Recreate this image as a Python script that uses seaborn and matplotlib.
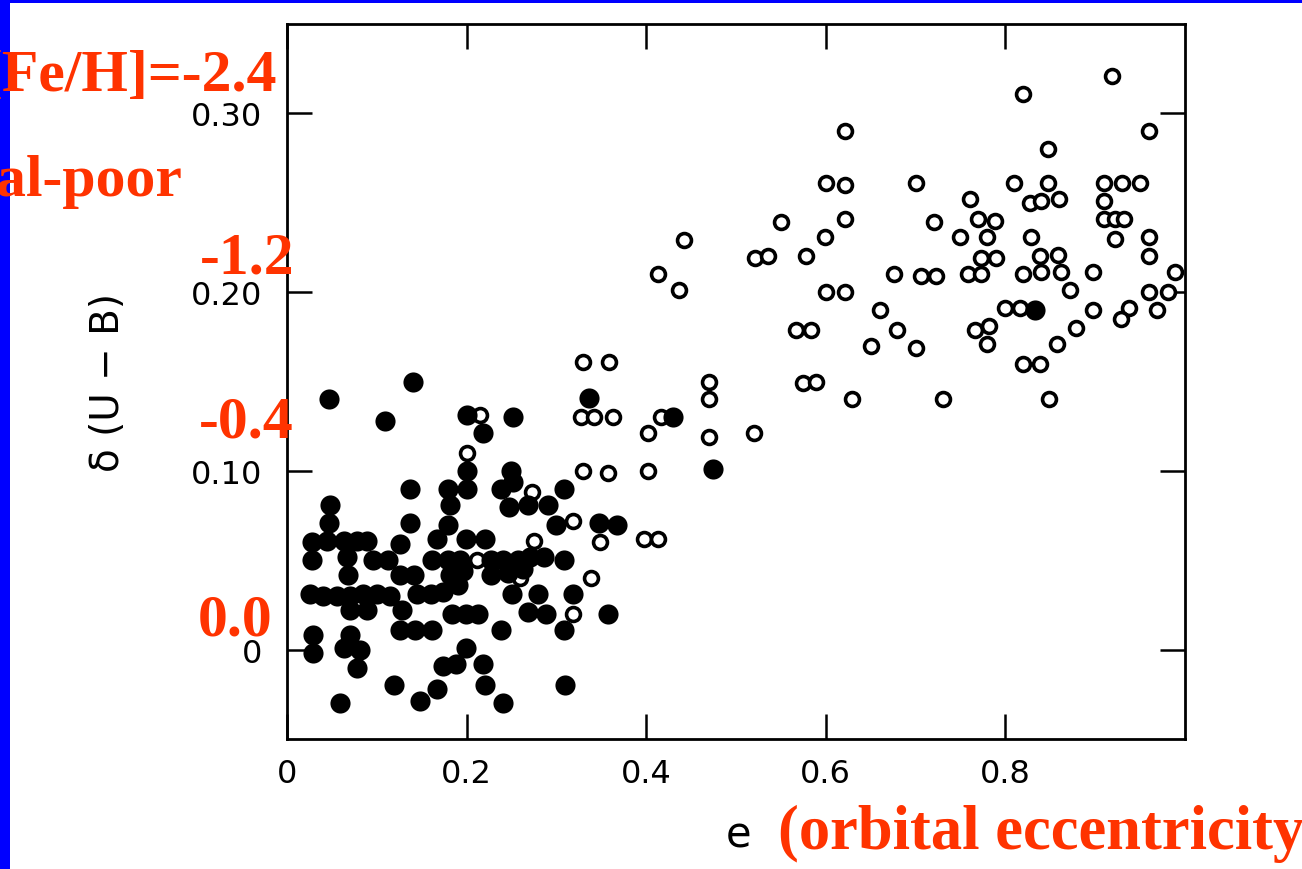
import matplotlib
matplotlib.use("Agg")
import matplotlib.pyplot as plt
import seaborn as sns
import pandas as pd
from matplotlib.patches import Rectangle

# ---- data ----
filled_e = [0.047, 0.140, 0.109, 0.201, 0.218, 0.252, 0.336, 0.430, 0.474, 0.200,
            0.200, 0.137, 0.137, 0.179, 0.181, 0.179, 0.048, 0.047, 0.249, 0.238,
            0.252, 0.308, 0.247, 0.268, 0.291, 0.299, 0.347, 0.368, 0.221, 0.028,
            0.045, 0.063, 0.078, 0.089, 0.126, 0.167, 0.199, 0.028, 0.067, 0.096,
            0.112, 0.162, 0.179, 0.193, 0.227, 0.241, 0.257, 0.271, 0.286, 0.308,
            0.068, 0.126, 0.141, 0.182, 0.196, 0.026, 0.040, 0.056, 0.070, 0.085,
            0.100, 0.115, 0.070, 0.089, 0.145, 0.160, 0.174, 0.190, 0.251, 0.279,
            0.319, 0.128, 0.184, 0.199, 0.213, 0.268, 0.288, 0.357, 0.126, 0.143,
            0.162, 0.238, 0.308, 0.029, 0.029, 0.070, 0.063, 0.081, 0.078, 0.199,
            0.174, 0.188, 0.218, 0.119, 0.059, 0.148, 0.167, 0.220, 0.240, 0.310,
            0.833, 0.246, 0.263, 0.227]
filled_du = [0.140, 0.150, 0.128, 0.131, 0.121, 0.130, 0.141, 0.130, 0.101, 0.100,
             0.090, 0.090, 0.071, 0.090, 0.081, 0.070, 0.081, 0.071, 0.100, 0.090,
             0.094, 0.090, 0.080, 0.081, 0.081, 0.070, 0.071, 0.070, 0.062, 0.060,
             0.061, 0.061, 0.061, 0.061, 0.059, 0.062, 0.062, 0.050, 0.052, 0.050,
             0.050, 0.050, 0.050, 0.050, 0.050, 0.050, 0.050, 0.052, 0.052, 0.050,
             0.042, 0.042, 0.042, 0.042, 0.044, 0.031, 0.030, 0.030, 0.030, 0.031,
             0.031, 0.030, 0.022, 0.022, 0.031, 0.031, 0.032, 0.036, 0.031, 0.031,
             0.031, 0.022, 0.020, 0.020, 0.020, 0.021, 0.020, 0.020, 0.011, 0.011,
             0.011, 0.011, 0.011, 0.008, -0.002, 0.008, 0.001, 0.000, -0.010, 0.001,
             -0.009, -0.008, -0.008, -0.020, -0.030, -0.029, -0.022, -0.020, -0.030, -0.020,
             0.190, 0.043, 0.045, 0.042]

open_e = [0.215, 0.200, 0.273, 0.319, 0.275, 0.212, 0.260, 0.338, 0.318, 0.349,
          0.330, 0.359, 0.327, 0.342, 0.363, 0.330, 0.357, 0.402, 0.416, 0.402,
          0.397, 0.413, 0.413, 0.442, 0.436, 0.470, 0.470, 0.470, 0.520, 0.521,
          0.536, 0.550, 0.578, 0.567, 0.583, 0.575, 0.589, 0.600, 0.621, 0.621,
          0.599, 0.600, 0.621, 0.621, 0.629, 0.650, 0.660, 0.676, 0.679, 0.701,
          0.701, 0.706, 0.723, 0.720, 0.730, 0.749, 0.761, 0.758, 0.773, 0.766,
          0.782, 0.780, 0.770, 0.788, 0.779, 0.773, 0.790, 0.810, 0.799, 0.816,
          0.820, 0.838, 0.820, 0.820, 0.827, 0.829, 0.838, 0.840, 0.840, 0.847,
          0.847, 0.849, 0.857, 0.859, 0.860, 0.862, 0.872, 0.879, 0.898, 0.898,
          0.910, 0.910, 0.910, 0.922, 0.932, 0.919, 0.930, 0.950, 0.922, 0.938,
          0.929, 0.960, 0.960, 0.960, 0.960, 0.981, 0.969, 0.989]
open_du = [0.131, 0.110, 0.088, 0.072, 0.061, 0.050, 0.040, 0.040, 0.020, 0.060,
           0.161, 0.161, 0.130, 0.130, 0.130, 0.100, 0.099, 0.121, 0.130, 0.100,
           0.062, 0.062, 0.210, 0.229, 0.201, 0.150, 0.140, 0.119, 0.121, 0.219,
           0.220, 0.239, 0.220, 0.179, 0.179, 0.149, 0.150, 0.261, 0.260, 0.241,
           0.231, 0.200, 0.200, 0.290, 0.140, 0.170, 0.190, 0.210, 0.179, 0.169,
           0.261, 0.209, 0.209, 0.239, 0.140, 0.231, 0.252, 0.210, 0.210, 0.179,
           0.181, 0.171, 0.241, 0.240, 0.231, 0.219, 0.219, 0.261, 0.191, 0.191,
           0.160, 0.160, 0.311, 0.210, 0.250, 0.231, 0.220, 0.211, 0.251, 0.280,
           0.261, 0.140, 0.171, 0.221, 0.252, 0.211, 0.201, 0.180, 0.211, 0.190,
           0.261, 0.251, 0.241, 0.241, 0.241, 0.321, 0.261, 0.261, 0.230, 0.191,
           0.185, 0.290, 0.231, 0.220, 0.200, 0.200, 0.190, 0.211]

x_ticks = [0, 0.2, 0.4, 0.6, 0.8]
x_ticklabels = ["0", "0.2", "0.4", "0.6", "0.8"]
y_ticks = [0, 0.10, 0.20, 0.30]
y_ticklabels = ["0", "0.10", "0.20", "0.30"]

red_labels = ["[Fe/H]=-2.4", "metal-poor", "-1.2", "-0.4", "0.0"]

W, H = 1302, 870
sns.set_theme(style="ticks")
plt.rcParams['font.family'] = ['DejaVu Sans']

fig = plt.figure(figsize=(W / 100, H / 100), dpi=100)
fig.patch.set_facecolor("white")
ax = fig.add_axes([287 / W, 1 - 740 / H, (1185 - 287) / W, (740 - 25) / H])

df_f = pd.DataFrame({"e": filled_e, "du": filled_du})
df_o = pd.DataFrame({"e": open_e, "du": open_du})

sns.scatterplot(data=df_o, x="e", y="du", ax=ax, s=100, marker="o",
                facecolor="white", edgecolor="black", linewidth=2.6, zorder=3)
sns.scatterplot(data=df_f, x="e", y="du", ax=ax, s=210, marker="o",
                color="black", edgecolor="black", linewidth=0, zorder=4)

ax.set_xlim(0, 1.0)
ax.set_ylim(-0.05, 0.35)
ax.set_xticks(x_ticks)
ax.set_xticklabels(x_ticklabels)
ax.set_yticks(y_ticks)
ax.set_yticklabels(y_ticklabels)
ax.tick_params(direction="in", length=18, width=1.8, labelsize=23,
               top=True, right=True, colors="black")
ax.tick_params(axis="x", pad=14)
ax.tick_params(axis="y", pad=18)
for sp in ax.spines.values():
    sp.set_visible(True)
    sp.set_linewidth(2.0)
    sp.set_color("black")
ax.set_xlabel("")
ax.set_ylabel("δ (U − B)", fontsize=28, color="black")
ax.yaxis.set_label_coords(-0.178, 0.50)

# blue frame bars
fig.patches.append(Rectangle((0, 0), 10 / W, 1, transform=fig.transFigure,
                             facecolor="#0000FF", edgecolor="none", zorder=0))
fig.patches.append(Rectangle((0, 1 - 4 / H), 1, 4 / H, transform=fig.transFigure,
                             facecolor="#0000FF", edgecolor="none", zorder=0))

red = "#FF3300"
rfont = dict(family="Liberation Serif", weight="bold", color=red, fontsize=43)
fig.text(277 / W, 1 - 91 / H, red_labels[0], ha="right", va="baseline", **rfont)
fig.text(182 / W, 1 - 196 / H, red_labels[1], ha="right", va="baseline", **rfont)
fig.text(294 / W, 1 - 273 / H, red_labels[2], ha="right", va="baseline", **rfont)
fig.text(294 / W, 1 - 438 / H, red_labels[3], ha="right", va="baseline", **rfont)
fig.text(273 / W, 1 - 635 / H, red_labels[4], ha="right", va="baseline", **rfont)

fig.text(726 / W, 1 - 848 / H, "e", ha="left", va="baseline", fontsize=30, color="black")
rfont2 = dict(rfont, fontsize=45)
fig.text(778 / W, 1 - 849 / H, "(orbital eccentricity)", ha="left", va="baseline", **rfont2)

fig.savefig("out.png", dpi=100, facecolor="white")
